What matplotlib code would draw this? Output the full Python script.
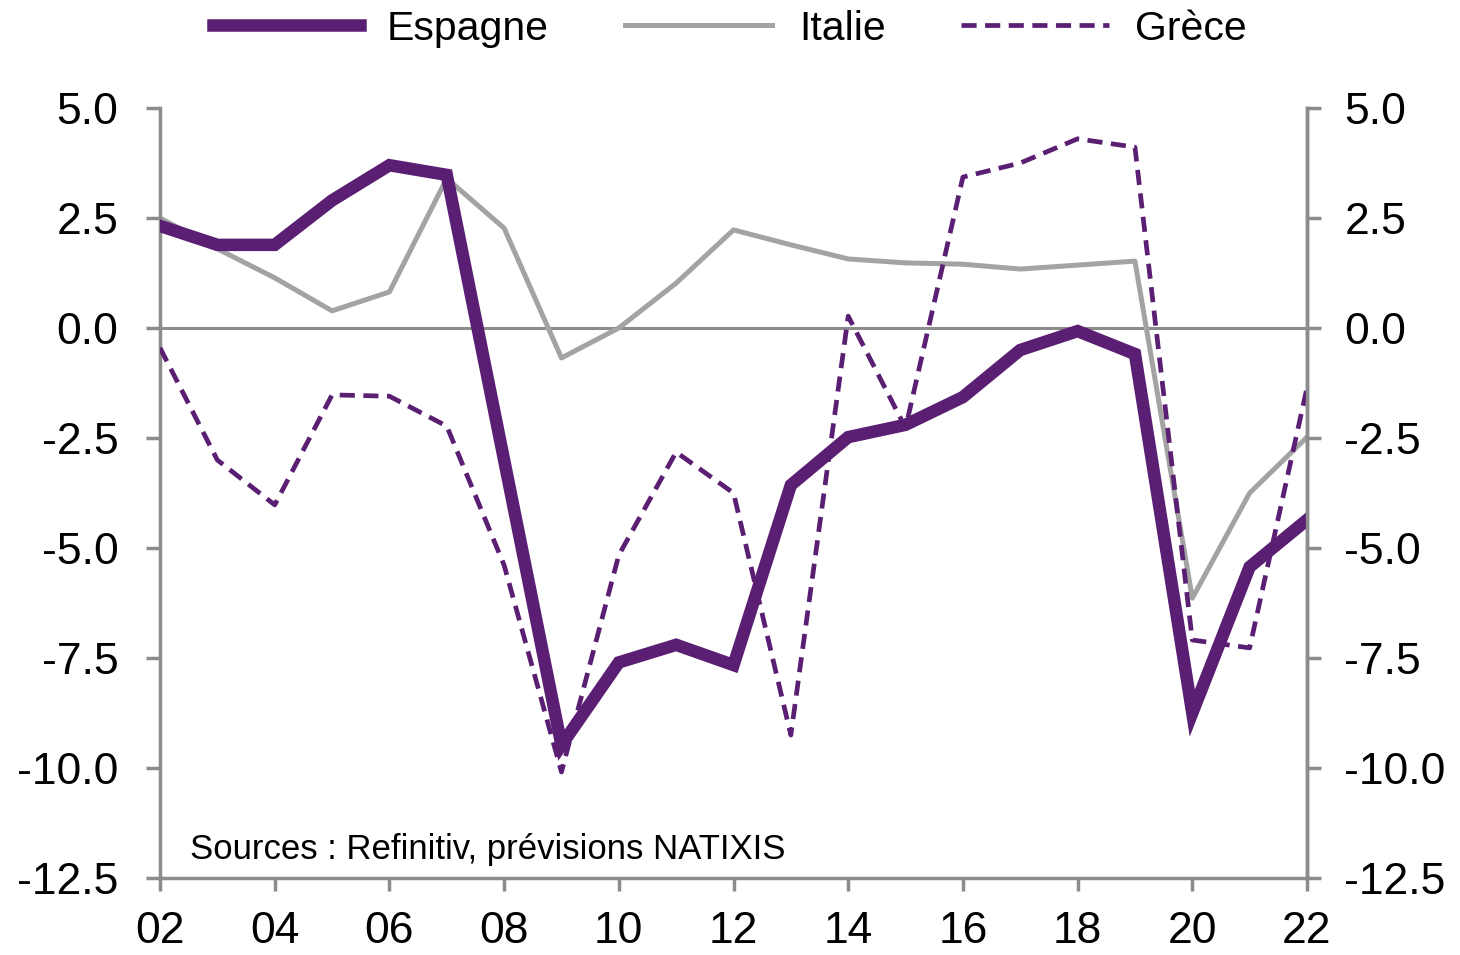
import matplotlib.pyplot as plt

annees = list(range(2002, 2023))
espagne = [2.32, 1.89, 1.89, 2.9, 3.7, 3.48, -3.0, -9.48, -7.6, -7.2, -7.66,
           -3.57, -2.48, -2.2, -1.57, -0.5, -0.07, -0.59, -8.75, -5.43, -4.36]
italie = [2.5, 1.8, 1.14, 0.39, 0.82, 3.4, 2.27, -0.68, 0.0, 1.02, 2.23,
          1.89, 1.57, 1.48, 1.45, 1.34, 1.43, 1.52, -6.14, -3.75, -2.48]
grece = [-0.45, -3.0, -4.02, -1.52, -1.55, -2.23, -5.39, -10.09, -5.16, -2.82, -3.75,
         -9.25, 0.27, -2.27, 3.43, 3.75, 4.3, 4.11, -7.09, -7.27, -1.36]
yticks = [5.0, 2.5, 0.0, -2.5, -5.0, -7.5, -10.0, -12.5]
xticks = list(range(2002, 2023, 2))
xlabels = [f"{a % 100:02d}" for a in xticks]

violet = '#5a1e72'
gris_ligne = '#a3a3a3'
gris_axe = '#8c8c8c'

plt.rcParams['font.family'] = ['Liberation Sans', 'DejaVu Sans']

fig = plt.figure(figsize=(14.6, 9.55), dpi=100)
ax = fig.add_axes([0.1096, 0.0806, 0.7856, 0.8063])

ax.axhline(0, color=gris_axe, lw=2.2, zorder=1)
ax.plot(annees, italie, color=gris_ligne, lw=3.6, label='Italie', zorder=2)
ax.plot(annees, grece, color=violet, lw=3.4, ls=(0, (3.2, 1.8)), label='Grèce', zorder=3)
ax.plot(annees, espagne, color=violet, lw=9, label='Espagne', zorder=4,
        solid_joinstyle='miter')

ax.set_xlim(2002, 2022)
ax.set_ylim(-12.5, 5.0)
ax.set_xticks(xticks)
ax.set_xticklabels(xlabels)
ax.set_yticks(yticks)
ax.set_yticklabels([f"{v:.1f}" for v in yticks])

ax2 = ax.twinx()
ax2.set_ylim(-12.5, 5.0)
ax2.set_yticks(yticks)
ax2.set_yticklabels([f"{v:.1f}" for v in yticks])

for a in (ax, ax2):
    a.spines['top'].set_visible(False)
    for s in ('left', 'right', 'bottom'):
        a.spines[s].set_color(gris_axe)
        a.spines[s].set_linewidth(2.5)
    a.tick_params(axis='both', colors=gris_axe, width=2.5, length=10,
                  labelsize=32, labelcolor='black', direction='out')
ax.tick_params(axis='x', length=9, pad=15)
ax.tick_params(axis='y', pad=20)
ax2.tick_params(axis='y', pad=17)
ax2.spines['left'].set_visible(False)
ax2.spines['bottom'].set_visible(False)

ax.text(0.026, 0.037, 'Sources : Refinitiv, prévisions NATIXIS', transform=ax.transAxes,
        fontsize=25, color='black', ha='left', va='center')

handles, labels = ax.get_legend_handles_labels()
ordre = [2, 0, 1]
fig.legend([handles[i] for i in ordre], [labels[i] for i in ordre],
           loc='center', bbox_to_anchor=(0.5, 0.97), ncol=3, frameon=False,
           fontsize=29.5, handlelength=3.6, columnspacing=1.85, handletextpad=0.65)

fig.savefig('out.png', dpi=100, facecolor='white')
